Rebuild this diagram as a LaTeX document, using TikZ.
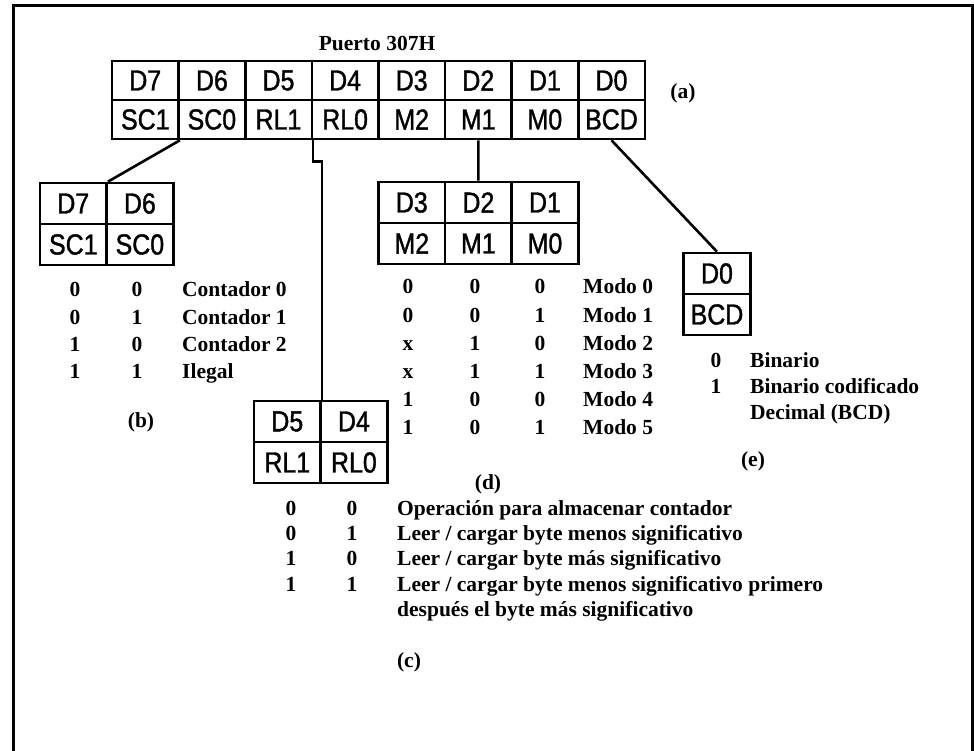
\documentclass[tikz,border=0pt]{standalone}
\usepackage{fontspec}
\setmainfont{Liberation Serif}
\newfontfamily\cellfont[FakeStretch=0.86,FakeBold=1.2]{Liberation Sans}
\begin{document}
\begin{tikzpicture}[x=1pt,y=-1pt,
  cell/.style={draw, line width=2.6pt, minimum width=66.6pt, minimum height=39pt,
    inner sep=0pt, font=\cellfont\fontsize{29}{29}\selectfont},
  subcell/.style={cell, minimum height=41pt},
  lbl/.style={inner sep=0pt, font=\bfseries\fontsize{21.5}{22}\selectfont},
  num/.style={lbl, anchor=base},
  txt/.style={lbl, anchor=base west},
  link/.style={line width=2.6pt},
]
\useasboundingbox (0,0) rectangle (974,751);
\fill[white] (0,0) rectangle (974,751);

% outer frame (open at the bottom)
\draw[line width=3pt] (13,760) -- (13,6) -- (972.5,6) -- (972.5,760);

% control word register, port 307H
\node[lbl, anchor=base] (title) at (377,51) {Puerto 307H};
\foreach \t/\b [count=\i from 0] in {D7/SC1,D6/SC0,D5/RL1,D4/RL0,D3/M2,D2/M1,D1/M0,D0/BCD}{
  \node[cell] (top\i) at ({145.3+66.6*\i},80.5) {\t};
  \node[cell] (bot\i) at ({145.3+66.6*\i},119.5) {\b};
}
\node[lbl, anchor=base] (la) at (683,99) {(a)};

% (b) counter select
\node[subcell] (bD7) at (73.3,203.5) {D7};
\node[subcell] (bD6) at (139.9,203.5) {D6};
\node[subcell] (bSC1) at (73.3,244.5) {SC1};
\node[subcell] (bSC0) at (139.9,244.5) {SC0};
\foreach \p/\q/\s [count=\r from 0] in {0/0/Contador 0,0/1/Contador 1,1/0/Contador 2,1/1/Ilegal}{
  \node[num] (bp\r) at (75,{297+27*\r}) {\p};
  \node[num] (bq\r) at (137,{297+27*\r}) {\q};
  \node[txt] (bs\r) at (182,{297+27*\r}) {\s};
}
\node[lbl, anchor=base] (lb) at (141,427) {(b)};

% (c) read / load
\node[subcell] (cD5) at (287.3,421.5) {D5};
\node[subcell] (cD4) at (353.9,421.5) {D4};
\node[subcell] (cRL1) at (287.3,462.5) {RL1};
\node[subcell] (cRL0) at (353.9,462.5) {RL0};
\node[num] (cp0) at (291,515) {0}; \node[num] (cq0) at (352,515) {0};
\node[txt] (cs0) at (397,515) {Operación para almacenar contador};
\node[num] (cp1) at (291,540) {0}; \node[num] (cq1) at (352,540) {1};
\node[txt] (cs1) at (397,540) {Leer / cargar byte menos significativo};
\node[num] (cp2) at (291,565) {1}; \node[num] (cq2) at (352,565) {0};
\node[txt] (cs2) at (397,565) {Leer / cargar byte más significativo};
\node[num] (cp3) at (291,591) {1}; \node[num] (cq3) at (352,591) {1};
\node[txt] (cs3) at (397,591) {Leer / cargar byte menos significativo primero};
\node[txt] (cs4) at (397,616) {después el byte más significativo};
\node[lbl, anchor=base] (lc) at (409,667) {(c)};

% (d) mode select
\node[subcell] (dD3) at (411.8,202.5) {D3};
\node[subcell] (dD2) at (478.4,202.5) {D2};
\node[subcell] (dD1) at (545.0,202.5) {D1};
\node[subcell] (dM2) at (411.8,243.5) {M2};
\node[subcell] (dM1) at (478.4,243.5) {M1};
\node[subcell] (dM0) at (545.0,243.5) {M0};
\foreach \a/\b/\c [count=\r from 0] in {0/0/0,0/0/1,x/1/0,x/1/1,1/0/0,1/0/1}{
  \node[num] (da\r) at (408,{294+28*\r}) {\a};
  \node[num] (db\r) at (475,{294+28*\r}) {\b};
  \node[num] (dc\r) at (540,{294+28*\r}) {\c};
  \node[txt] (dm\r) at (583,{294+28*\r}) {Modo \r};
}
\node[lbl, anchor=base] (ld) at (488,489) {(d)};

% (e) counting format
\node[subcell] (eD0) at (717,273.5) {D0};
\node[subcell] (eBCD) at (717,314.5) {BCD};
\node[num] (ep0) at (716,367) {0};
\node[txt] (es0) at (750,367) {Binario};
\node[num] (ep1) at (716,393) {1};
\node[txt] (es1) at (750,393) {Binario codificado};
\node[txt] (es2) at (750,419) {Decimal (BCD)};
\node[lbl, anchor=base] (le) at (753,466) {(e)};

% connectors from the register to each field
\draw[link] (bot0.south east) -- (bD7.north east);
\draw[link] (bot2.south east) -- ++(0,21) -| (cD5.north east);
\draw[link] (bot5.south) -- (dD2.north);
\draw[link] (bot7.south) -- (eD0.north);
\end{tikzpicture}
\end{document}
